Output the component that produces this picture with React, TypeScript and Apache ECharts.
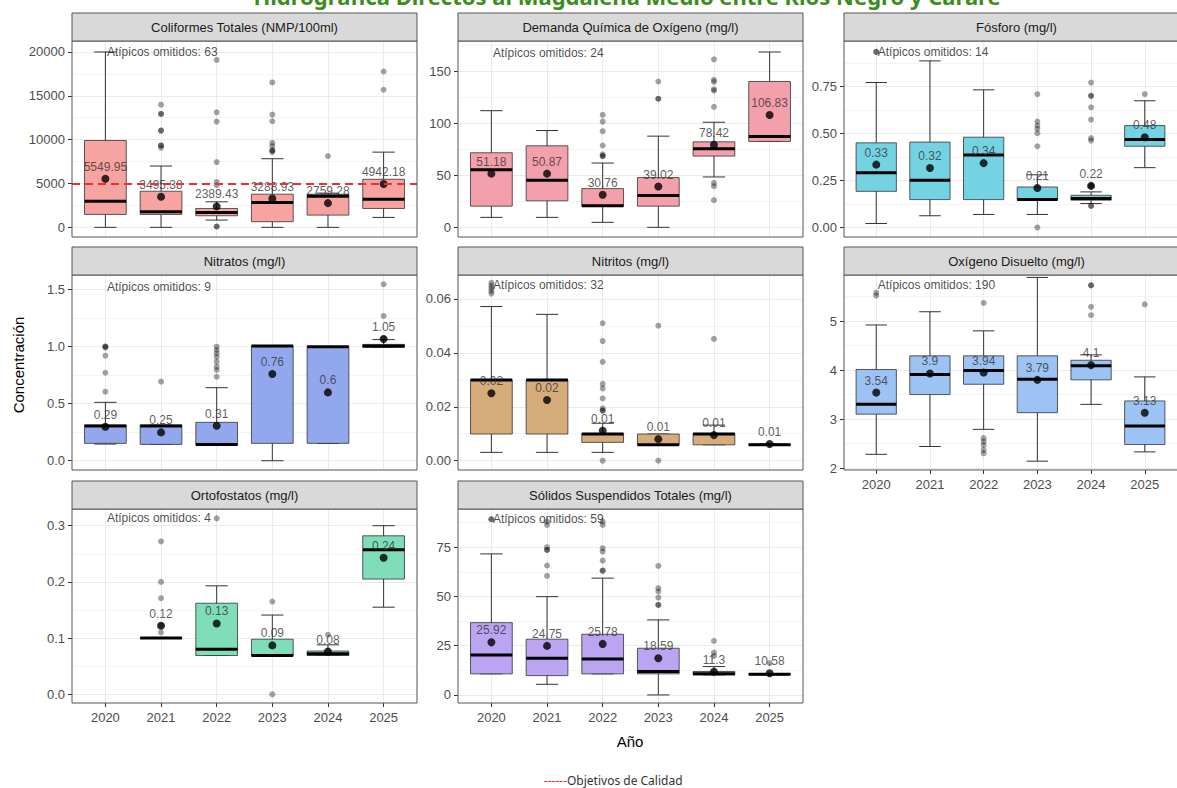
import React, { useEffect, useRef } from 'react';
import * as echarts from 'echarts';

// ---------- Data ----------
const years = ['2020', '2021', '2022', '2023', '2024', '2025'];

const panelTitles = [
  'Coliformes Totales (NMP/100ml)',
  'Demanda Química de Oxígeno (mg/l)',
  'Fósforo (mg/l)',
  'Nitratos (mg/l)',
  'Nitritos (mg/l)',
  'Oxígeno Disuelto (mg/l)',
  'Ortofostatos (mg/l)',
  'Sólidos Suspendidos Totales (mg/l)',
];

const panelColors = ['#F7A3A1', '#F4A0AC', '#74D3E3', '#93A8EC', '#D6AC7A', '#9CC3F4', '#7FDDB9', '#BBA4F2'];

// boxes: [low whisker, Q1, median, Q3, high whisker] by year (null = no data)
const coliformesBox = [
  [0, 1474, 2987, 9905, 20000],
  [0, 1474, 1777, 4121, 6994],
  [832, 1323, 1701, 2155, 2911],
  [0, 643, 2836, 3781, 7826],
  [0, 1395, 3551, 3778, 3900],
  [1134, 2155, 3210, 5480, 8577],
];
const coliformesMean = [5549.95, 3495.38, 2389.43, 3288.93, 2759.28, 4942.18];
const coliformesMeanLabel = ['5549.95', '3495.38', '2389.43', '3288.93', '2759.28', '4942.18'];
const coliformesOutliers = [
  [1, 13989], [1, 12930], [1, 12930], [1, 11040], [1, 11040], [1, 9338], [1, 9338], [1, 9074],
  [2, 19093], [2, 13119], [2, 12060], [2, 7448], [2, 5180], [2, 4800], [2, 100], [2, 100],
  [3, 16521], [3, 12855], [3, 12098], [3, 9641], [3, 9262], [3, 8771], [3, 8771], [3, 8582],
  [4, 8129],
  [5, 17769], [5, 15690],
];
const coliformesObjetivo = 5000;

const dqoBox = [
  [9.6, 20.4, 55.5, 71.8, 112.3],
  [9.6, 25.5, 45.3, 78.5, 93.2],
  [4.8, 20.4, 20.7, 37.3, 61.9],
  [0, 20.4, 30.6, 47.9, 87.8],
  [48.5, 68.6, 75.6, 82.3, 101.2],
  [82.7, 82.7, 87.4, 140.4, 168.8],
];
const dqoMean = [51.7, 51.7, 31.3, 39.3, 79.5, 108.2];
const dqoMeanLabel = ['51.18', '50.87', '30.76', '39.02', '78.42', '106.83'];
const dqoOutliers = [
  [2, 108.2], [2, 101.8], [2, 92.6], [2, 78.8], [2, 70.2], [2, 68.6], [2, 68.6],
  [3, 140.4], [3, 123.8], [3, 123.8],
  [4, 161.8], [4, 142], [4, 140], [4, 133], [4, 131.5], [4, 116], [4, 42.8], [4, 39.6], [4, 26.2],
];

const fosforoBox = [
  [0.021, 0.192, 0.291, 0.45, 0.771],
  [0.062, 0.148, 0.251, 0.454, 0.886],
  [0.069, 0.148, 0.386, 0.48, 0.732],
  [0.069, 0.145, 0.148, 0.215, 0.28],
  [0.127, 0.145, 0.154, 0.171, 0.189],
  [0.318, 0.432, 0.468, 0.542, 0.674],
];
const fosforoMean = [0.334, 0.316, 0.342, 0.21, 0.221, 0.48];
const fosforoMeanLabel = ['0.33', '0.32', '0.34', '0.21', '0.22', '0.48'];
const fosforoOutliers = [
  [0, 0.934], [0, 0.934],
  [3, 0.709], [3, 0.563], [3, 0.542], [3, 0.524], [3, 0.501], [3, 0.432], [3, 0],
  [4, 0.771], [4, 0.7], [4, 0.7], [4, 0.639], [4, 0.574], [4, 0.475], [4, 0.462], [4, 0.221], [4, 0.221], [4, 0.115], [4, 0.115],
  [5, 0.709],
];

const nitratosBox = [
  [0.146, 0.152, 0.303, 0.312, 0.511],
  [0.143, 0.143, 0.303, 0.312, 0.312],
  [0.137, 0.137, 0.143, 0.336, 0.639],
  [0, 0.152, 1.004, 1.004, 1.004],
  [0.152, 0.152, 0.998, 0.998, 0.998],
  [0.992, 0.992, 1.004, 1.018, 1.06],
];
const nitratosMean = [0.298, 0.248, 0.306, 0.759, 0.598, 1.065];
const nitratosMeanLabel = ['0.29', '0.25', '0.31', '0.76', '0.6', '1.05'];
const nitratosOutliers = [
  [0, 1.0], [0, 0.998], [0, 0.99], [0, 0.919], [0, 0.77], [0, 0.604],
  [1, 0.692],
  [2, 0.998], [2, 0.969], [2, 0.94], [2, 0.91], [2, 0.867], [2, 0.823], [2, 0.794], [2, 0.735],
  [5, 1.544], [5, 1.267], [5, 1.07],
];

const nitritosBox = [
  [0.0031, 0.0099, 0.0299, 0.0299, 0.0572],
  [0.0031, 0.0099, 0.0299, 0.0299, 0.0543],
  [0.0031, 0.0068, 0.0099, 0.0101, 0.0139],
  [0.0059, 0.0059, 0.0059, 0.0099, 0.0099],
  [0.0059, 0.0059, 0.0099, 0.0101, 0.0132],
  [0.0057, 0.0057, 0.0059, 0.0062, 0.0062],
];
const nitritosMean = [0.025, 0.0225, 0.0111, 0.008, 0.0095, 0.0062];
const nitritosMeanLabel = ['0.02', '0.02', '0.01', '0.01', '0.01', '0.01'];
const nitritosOutliers = [
  [0, 0.066], [0, 0.065], [0, 0.064], [0, 0.063], [0, 0.062],
  [2, 0.051], [2, 0.0444], [2, 0.0367], [2, 0.0285], [2, 0.0268], [2, 0.0231], [2, 0.0194], [2, 0.0186], [2, 0.0186], [2, 0],
  [3, 0.0501], [3, 0],
  [4, 0.0452],
];

const oxigenoBox = [
  [2.28, 3.1, 3.3, 4.01, 4.92],
  [2.44, 3.5, 3.91, 4.29, 5.19],
  [2.79, 3.71, 3.99, 4.29, 4.8],
  [2.14, 3.13, 3.81, 4.29, 5.89],
  [3.3, 3.8, 4.09, 4.2, 4.31],
  [2.33, 2.48, 2.86, 3.37, 3.86],
];
const oxigenoMean = [3.54, 3.93, 3.95, 3.8, 4.1, 3.13];
const oxigenoMeanLabel = ['3.54', '3.9', '3.94', '3.79', '4.1', '3.13'];
const oxigenoOutliers = [
  [0, 5.58], [0, 5.52],
  [2, 5.37], [2, 2.61], [2, 2.54], [2, 2.47], [2, 2.37], [2, 2.3],
  [4, 5.73], [4, 5.73], [4, 5.29], [4, 5.12],
  [5, 5.34],
];

const ortofosfatosBox = [
  null,
  [0.1, 0.1, 0.1, 0.1, 0.1],
  [0.069, 0.069, 0.08, 0.162, 0.193],
  [0.069, 0.069, 0.069, 0.098, 0.141],
  [0.069, 0.069, 0.072, 0.077, 0.088],
  [0.155, 0.205, 0.257, 0.282, 0.3],
];
const ortofosfatosMean = [null, 0.122, 0.126, 0.087, 0.076, 0.243];
const ortofosfatosMeanLabel = ['', '0.12', '0.13', '0.09', '0.08', '0.24'];
const ortofosfatosOutliers = [
  [1, 0.272], [1, 0.2], [1, 0.171], [1, 0.123], [1, 0.11],
  [2, 0.313],
  [3, 0.165], [3, 0],
  [4, 0.106],
];

const solidosBox = [
  [10.7, 10.7, 20.3, 36.7, 71.6],
  [5.4, 9.8, 18.6, 28.3, 49.9],
  [10.7, 10.7, 18.3, 30.8, 59.3],
  [0, 10.7, 11.9, 23.7, 38.1],
  [10.2, 10.2, 10.7, 11.9, 14.4],
  [10.2, 10.2, 10.5, 10.7, 10.7],
];
const solidosMean = [26.7, 24.9, 25.9, 18.6, 11.8, 11.0];
const solidosMeanLabel = ['25.92', '24.75', '25.78', '18.59', '11.3', '10.58'];
const solidosOutliers = [
  [0, 89.2], [0, 89.2],
  [1, 88], [1, 86.3], [1, 75], [1, 73.6], [1, 73.6], [1, 65.7], [1, 60.4],
  [2, 88], [2, 86.3], [2, 74.5], [2, 72.8], [2, 68.2], [2, 63.1], [2, 63.1],
  [3, 65.5], [3, 54.2], [3, 52.5], [3, 49.4], [3, 45.7], [3, 45.7],
  [4, 27.4], [4, 21.5], [4, 19.8],
  [5, 16.1],
];

const omitidosCount = [63, 24, 14, 9, 32, 190, 4, 59];
const omitidosAnchor = [20000, 168.2, 0.934, 1.523, 0.0652, 5.73, 0.313, 89.2];

// y-axis scales
const yMins = [-1100, -9.3, -0.051, -0.081, -0.00345, 1.96, -0.0155, -4.1];
const yMaxs = [21250, 179.4, 0.992, 1.625, 0.0689, 5.94, 0.3297, 94.4];
const yTicks = [
  [0, 5000, 10000, 15000, 20000],
  [0, 50, 100, 150],
  [0, 0.25, 0.5, 0.75],
  [0, 0.5, 1.0, 1.5],
  [0, 0.02, 0.04, 0.06],
  [2, 3, 4, 5],
  [0, 0.1, 0.2, 0.3],
  [0, 25, 50, 75],
];
const yTickLabels = [
  ['0', '5000', '10000', '15000', '20000'],
  ['0', '50', '100', '150'],
  ['0.00', '0.25', '0.50', '0.75'],
  ['0.0', '0.5', '1.0', '1.5'],
  ['0.00', '0.02', '0.04', '0.06'],
  ['2', '3', '4', '5'],
  ['0.0', '0.1', '0.2', '0.3'],
  ['0', '25', '50', '75'],
];
const yMinorTicks = [
  [2500, 7500, 12500, 17500],
  [25, 75, 125, 175],
  [0.125, 0.375, 0.625, 0.875],
  [0.25, 0.75, 1.25],
  [0.01, 0.03, 0.05],
  [2.5, 3.5, 4.5, 5.5],
  [0.05, 0.15, 0.25],
  [12.5, 37.5, 62.5, 87.5],
];

const allBoxes = [coliformesBox, dqoBox, fosforoBox, nitratosBox, nitritosBox, oxigenoBox, ortofosfatosBox, solidosBox];
const allMeans = [coliformesMean, dqoMean, fosforoMean, nitratosMean, nitritosMean, oxigenoMean, ortofosfatosMean, solidosMean];
const allMeanLabels = [coliformesMeanLabel, dqoMeanLabel, fosforoMeanLabel, nitratosMeanLabel, nitritosMeanLabel, oxigenoMeanLabel, ortofosfatosMeanLabel, solidosMeanLabel];
const allOutliers = [coliformesOutliers, dqoOutliers, fosforoOutliers, nitratosOutliers, nitritosOutliers, oxigenoOutliers, ortofosfatosOutliers, solidosOutliers];

// ---------- Layout ----------
const colLefts = [72, 458, 844];
const panelWidth = 345;
const rowTops = [41, 275, 509];
const rowHeights = [196, 195, 194];
const stripH = 28;
const FONT = "'Liberation Sans', Arial, sans-serif";

function makeRenderBox(fill: string) {
  return (params: any, api: any) => {
    const x = api.value(0);
    const lo = api.value(1), q1 = api.value(2), med = api.value(3), q3 = api.value(4), hi = api.value(5);
    const pLo = api.coord([x, lo]);
    const cx = pLo[0];
    const yLo = pLo[1];
    const yQ1 = api.coord([x, q1])[1];
    const yMed = api.coord([x, med])[1];
    const yQ3 = api.coord([x, q3])[1];
    const yHi = api.coord([x, hi])[1];
    const bw = api.size([0.75, 0])[0];
    const cw = api.size([0.4, 0])[0];
    const thin = { stroke: '#333', lineWidth: 1 };
    return {
      type: 'group',
      children: [
        { type: 'line', shape: { x1: cx, y1: yHi, x2: cx, y2: yLo }, style: thin },
        { type: 'line', shape: { x1: cx - cw / 2, y1: yHi, x2: cx + cw / 2, y2: yHi }, style: thin },
        { type: 'line', shape: { x1: cx - cw / 2, y1: yLo, x2: cx + cw / 2, y2: yLo }, style: thin },
        {
          type: 'rect',
          shape: { x: cx - bw / 2, y: yQ3, width: bw, height: Math.max(yQ1 - yQ3, 0.01) },
          style: { fill, stroke: '#333', lineWidth: 0.8 },
        },
        { type: 'line', shape: { x1: cx - bw / 2, y1: yMed, x2: cx + bw / 2, y2: yMed }, style: { stroke: '#000', lineWidth: 3 } },
      ],
    };
  };
}

function buildOption() {
  const grids: any[] = [];
  const xAxes: any[] = [];
  const yAxes: any[] = [];
  const series: any[] = [];
  const graphics: any[] = [];

  for (let i = 0; i < 8; i++) {
    const row = Math.floor(i / 3);
    const col = i % 3;
    const left = colLefts[col];
    const top = rowTops[row];
    const height = rowHeights[row];
    const showX = i >= 5;

    grids.push({ left, top, width: panelWidth, height, containLabel: false });

    xAxes.push({
      type: 'value',
      gridIndex: i,
      position: 'bottom',
      min: -0.6,
      max: 5.6,
      axisLine: { show: false, onZero: false },
      axisTick: { show: showX, length: 4, customValues: [0, 1, 2, 3, 4, 5], lineStyle: { color: '#333' } },
      axisLabel: {
        show: showX,
        customValues: [0, 1, 2, 3, 4, 5],
        formatter: (v: number) => years[Math.round(v)],
        color: '#4D4D4D',
        fontSize: 13,
        fontFamily: FONT,
        margin: 8,
      },
      splitLine: { show: true, lineStyle: { color: '#EBEBEB', width: 1 } },
    });

    const ticks = yTicks[i];
    const labels = yTickLabels[i];
    yAxes.push({
      type: 'value',
      gridIndex: i,
      position: 'left',
      min: yMins[i],
      max: yMaxs[i],
      axisLine: { show: false, onZero: false },
      axisTick: { show: true, length: 4, customValues: ticks, lineStyle: { color: '#333' } },
      axisLabel: {
        customValues: ticks,
        formatter: (v: number) => {
          const k = ticks.findIndex((t) => Math.abs(t - v) < 1e-9);
          return k >= 0 ? labels[k] : '';
        },
        color: '#4D4D4D',
        fontSize: 13,
        fontFamily: FONT,
        margin: 7,
      },
      splitLine: { show: true, lineStyle: { color: '#EBEBEB', width: 1 } },
    });
    yAxes.push({
      type: 'value',
      gridIndex: i,
      position: 'left',
      min: yMins[i],
      max: yMaxs[i],
      axisLine: { show: false, onZero: false },
      axisTick: { show: false, customValues: yMinorTicks[i] },
      axisLabel: { show: false, customValues: yMinorTicks[i] },
      splitLine: { show: true, lineStyle: { color: '#F4F4F4', width: 1 } },
    });

    const yIdx = i * 2;
    const boxData = allBoxes[i]
      .map((b, k) => (b ? [k, ...b] : null))
      .filter((d) => d !== null);

    series.push({
      type: 'custom',
      xAxisIndex: i,
      yAxisIndex: yIdx,
      renderItem: makeRenderBox(panelColors[i]),
      encode: { x: 0, y: [1, 2, 3, 4, 5] },
      data: boxData,
      clip: false,
      z: 2,
    });

    series.push({
      type: 'scatter',
      xAxisIndex: i,
      yAxisIndex: yIdx,
      symbol: 'circle',
      symbolSize: 6,
      itemStyle: { color: 'rgba(0,0,0,0.45)' },
      data: allOutliers[i],
      z: 3,
    });

    const means = allMeans[i];
    const meanLabels = allMeanLabels[i];
    const meanData: any[] = [];
    means.forEach((m, k) => {
      if (m !== null) meanData.push({ value: [k, m], label: { formatter: meanLabels[k] } });
    });
    const meanSeries: any = {
      type: 'scatter',
      xAxisIndex: i,
      yAxisIndex: yIdx,
      symbol: 'circle',
      symbolSize: 8,
      itemStyle: { color: '#000' },
      label: { show: true, position: 'top', distance: 2, color: '#333', fontSize: 12, fontFamily: FONT },
      data: meanData,
      z: 4,
    };
    if (i === 0) {
      meanSeries.markLine = {
        silent: true,
        symbol: ['none', 'none'],
        label: { show: false },
        lineStyle: { color: '#F03030', type: [8, 5], width: 2 },
        data: [{ yAxis: coliformesObjetivo }],
        z: 5,
      };
    }
    series.push(meanSeries);

    series.push({
      type: 'scatter',
      xAxisIndex: i,
      yAxisIndex: yIdx,
      symbolSize: 1,
      itemStyle: { color: 'rgba(0,0,0,0)' },
      label: {
        show: true,
        position: 'right',
        distance: 1,
        formatter: `Atípicos omitidos: ${omitidosCount[i]}`,
        color: '#1A1A1A',
        fontSize: 12,
        fontFamily: FONT,
      },
      data: [[0, omitidosAnchor[i]]],
      z: 6,
    });

    // panel border
    graphics.push({
      type: 'rect',
      z: 100,
      silent: true,
      shape: { x: left, y: top, width: panelWidth, height },
      style: { fill: 'none', stroke: '#555', lineWidth: 1 },
    });
    // strip
    graphics.push({
      type: 'rect',
      z: 100,
      silent: true,
      shape: { x: left, y: top - stripH, width: panelWidth, height: stripH },
      style: { fill: '#D9D9D9', stroke: '#555', lineWidth: 1 },
    });
    graphics.push({
      type: 'text',
      z: 101,
      silent: true,
      x: left + panelWidth / 2,
      y: top - stripH / 2,
      style: {
        text: panelTitles[i],
        align: 'center',
        verticalAlign: 'middle',
        fill: '#1A1A1A',
        fontSize: 13,
        fontFamily: FONT,
      },
    });
  }

  // titles & captions
  graphics.push({
    type: 'text',
    z: 101,
    silent: true,
    x: 627,
    y: -4,
    style: {
      text: 'Hidrográfica Directos al Magdalena Medio entre Ríos Negro y Carare',
      align: 'center',
      verticalAlign: 'middle',
      fill: '#3E8C20',
      fontSize: 22,
      fontWeight: 'bold',
      fontFamily: "'Noto Sans', 'Open Sans', sans-serif",
    },
  });
  graphics.push({
    type: 'text',
    z: 101,
    silent: true,
    x: 18,
    y: 365,
    rotation: Math.PI / 2,
    style: {
      text: 'Concentración',
      align: 'center',
      verticalAlign: 'middle',
      fill: '#000',
      fontSize: 15,
      fontFamily: FONT,
    },
  });
  graphics.push({
    type: 'text',
    z: 101,
    silent: true,
    x: 630,
    y: 741,
    style: {
      text: 'Año',
      align: 'center',
      verticalAlign: 'middle',
      fill: '#000',
      fontSize: 15,
      fontFamily: FONT,
    },
  });
  graphics.push({
    type: 'text',
    z: 101,
    silent: true,
    x: 567,
    y: 780,
    style: {
      text: '------',
      align: 'right',
      verticalAlign: 'middle',
      fill: '#FF2A2A',
      fontSize: 12,
      fontFamily: "'Noto Sans', sans-serif",
    },
  });
  graphics.push({
    type: 'text',
    z: 101,
    silent: true,
    x: 567,
    y: 780,
    style: {
      text: 'Objetivos de Calidad',
      align: 'left',
      verticalAlign: 'middle',
      fill: '#333',
      fontSize: 12,
      fontFamily: "'Noto Sans', sans-serif",
    },
  });

  return {
    animation: false,
    backgroundColor: '#fff',
    textStyle: { fontFamily: FONT },
    grid: grids,
    xAxis: xAxes,
    yAxis: yAxes,
    series,
    graphic: { elements: graphics },
  };
}

export default function App() {
  const ref = useRef<HTMLDivElement>(null);
  useEffect(() => {
    const chart = echarts.init(ref.current as HTMLDivElement, null, { renderer: 'svg' });
    chart.setOption(buildOption() as any);
    return () => chart.dispose();
  }, []);
  return (
    <div
      ref={ref}
      style={{ position: 'fixed', left: 0, top: 0, width: 1177, height: 788, background: '#fff' }}
    />
  );
}
